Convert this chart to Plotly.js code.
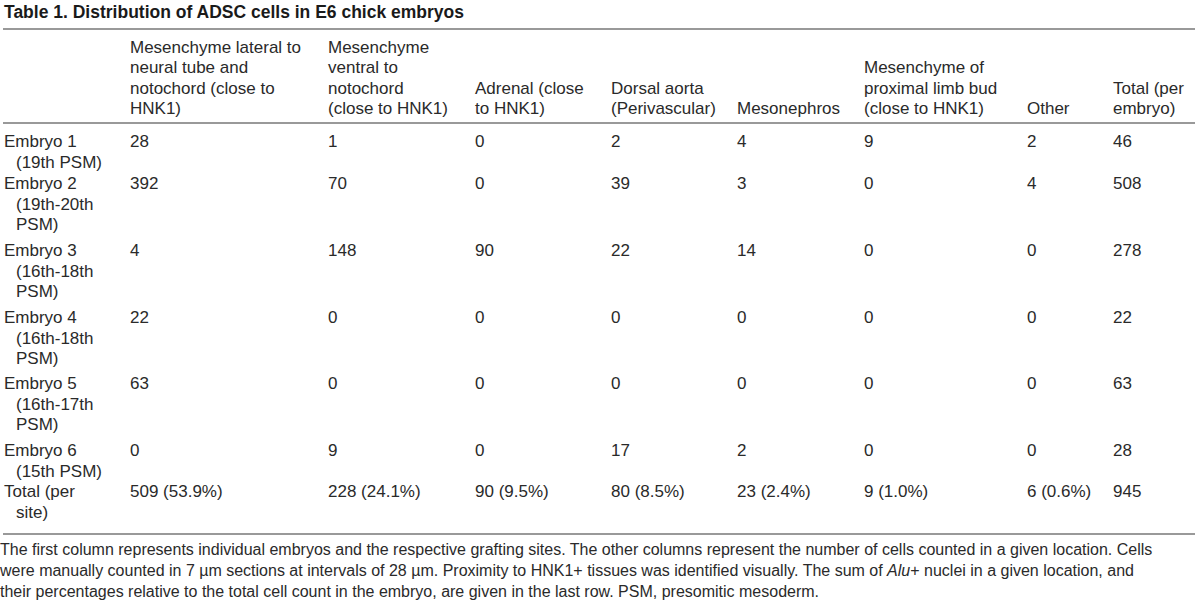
<!DOCTYPE html>
<html>
<head>
<meta charset="utf-8">
<script src="https://cdn.plot.ly/plotly-3.0.1.min.js"></script>
<style>html,body{margin:0;padding:0;background:#fff;}</style>
</head>
<body>
<div id="chart" style="width:1200px;height:604px;"></div>
<script>
// ---------- DATA ----------
const tableTitle = "Table 1. Distribution of ADSC cells in E6 chick embryos";
const columnHeaders = [
  [],
  ["Mesenchyme lateral to", "neural tube and", "notochord (close to", "HNK1)"],
  ["Mesenchyme", "ventral to", "notochord", "(close to HNK1)"],
  ["Adrenal (close", "to HNK1)"],
  ["Dorsal aorta", "(Perivascular)"],
  ["Mesonephros"],
  ["Mesenchyme of", "proximal limb bud", "(close to HNK1)"],
  ["Other"],
  ["Total (per", "embryo)"]
];
const rowLabels = [
  ["Embryo 1", "(19th PSM)"],
  ["Embryo 2", "(19th-20th", "PSM)"],
  ["Embryo 3", "(16th-18th", "PSM)"],
  ["Embryo 4", "(16th-18th", "PSM)"],
  ["Embryo 5", "(16th-17th", "PSM)"],
  ["Embryo 6", "(15th PSM)"],
  ["Total (per", "site)"]
];
const mesLateral   = [28, 392, 4, 22, 63, 0];
const mesVentral   = [1, 70, 148, 0, 0, 9];
const adrenal      = [0, 0, 90, 0, 0, 0];
const dorsalAorta  = [2, 39, 22, 0, 0, 17];
const mesonephros  = [4, 3, 14, 0, 0, 2];
const limbBud      = [9, 0, 0, 0, 0, 0];
const other        = [2, 4, 0, 0, 0, 0];
const totalPerEmbryo = [46, 508, 278, 22, 63, 28];
const siteTotals   = [509, 228, 90, 80, 23, 9, 6];
const sitePercents = ["53.9", "24.1", "9.5", "8.5", "2.4", "1.0", "0.6"];
const grandTotal   = 945;
const footnoteLines = [
  "The first column represents individual embryos and the respective grafting sites. The other columns represent the number of cells counted in a given location. Cells",
  "were manually counted in 7 µm sections at intervals of 28 µm. Proximity to HNK1+ tissues was identified visually. The sum of <i>Alu</i>+ nuclei in a given location, and",
  "their percentages relative to the total cell count in the embryo, are given in the last row. PSM, presomitic mesoderm."
];

// ---------- LAYOUT CONSTANTS ----------
const W = 1200, H = 604;
const colX = [4, 130, 328, 475, 611, 737, 864, 1027, 1113];
const lineH = 20.5;
const headerLastY = 110;
const rowY = [143, 185, 252, 319, 385, 452, 493];
const indent = 12;
const footY = 551, footLineH = 21;
const titleY = 12;
const ruleY = [29, 123, 534];
const ruleX0 = 3, ruleX1 = 1195;
const textColor = "#2a2a2a";
const bodyFont = {family: "Liberation Sans, Arial, sans-serif", size: 17, color: textColor};
const footFont = {family: "Liberation Sans, Arial, sans-serif", size: 16, color: textColor};

// ---------- BUILD ----------
const traces = [];
function addText(xs, ys, texts, font) {
  traces.push({
    type: "scatter", mode: "text", x: xs, y: ys, text: texts,
    textposition: "middle right", textfont: font, hoverinfo: "skip", showlegend: false
  });
}

// header
columnHeaders.forEach((lines, c) => {
  if (!lines.length) return;
  const n = lines.length;
  addText(lines.map(() => colX[c]), lines.map((_, i) => headerLastY - (n - 1 - i) * lineH), lines, bodyFont);
});

// row labels (hanging indent)
const lx = [], ly = [], lt = [];
rowLabels.forEach((lines, r) => {
  lines.forEach((t, i) => {
    lx.push(colX[0] + (i > 0 ? indent : 0));
    ly.push(rowY[r] + i * lineH);
    lt.push(t);
  });
});
addText(lx, ly, lt, bodyFont);

// data columns
const dataCols = [mesLateral, mesVentral, adrenal, dorsalAorta, mesonephros, limbBud, other];
dataCols.forEach((vals, c) => {
  const texts = vals.map(String).concat([siteTotals[c] + " (" + sitePercents[c] + "%)"]);
  addText(texts.map(() => colX[c + 1]), rowY.slice(0, texts.length), texts, bodyFont);
});
const totTexts = totalPerEmbryo.map(String).concat([String(grandTotal)]);
addText(totTexts.map(() => colX[8]), rowY.slice(0, totTexts.length), totTexts, bodyFont);

// footnote
addText(footnoteLines.map(() => 0), footnoteLines.map((_, i) => footY + i * footLineH), footnoteLines, footFont);

const shapes = ruleY.map(y => ({
  type: "line", xref: "x", yref: "y", x0: ruleX0, x1: ruleX1, y0: y, y1: y,
  line: {color: "#777777", width: 1.6}
}));

const layout = {
  width: W, height: H,
  margin: {l: 0, r: 0, t: 0, b: 0},
  paper_bgcolor: "#fff", plot_bgcolor: "#fff",
  title: {
    text: "<b>" + tableTitle + "</b>",
    x: 4 / W, xanchor: "left", xref: "paper",
    y: 1 - titleY / H, yanchor: "middle", yref: "paper",
    font: {family: "Liberation Sans, Arial, sans-serif", size: 17.5, color: "#1a1a1a"}
  },
  xaxis: {range: [0, W], visible: false, fixedrange: true},
  yaxis: {range: [H, 0], visible: false, fixedrange: true},
  shapes: shapes,
  showlegend: false
};

Plotly.newPlot("chart", traces, layout, {displayModeBar: false, staticPlot: true});
</script>
</body>
</html>
